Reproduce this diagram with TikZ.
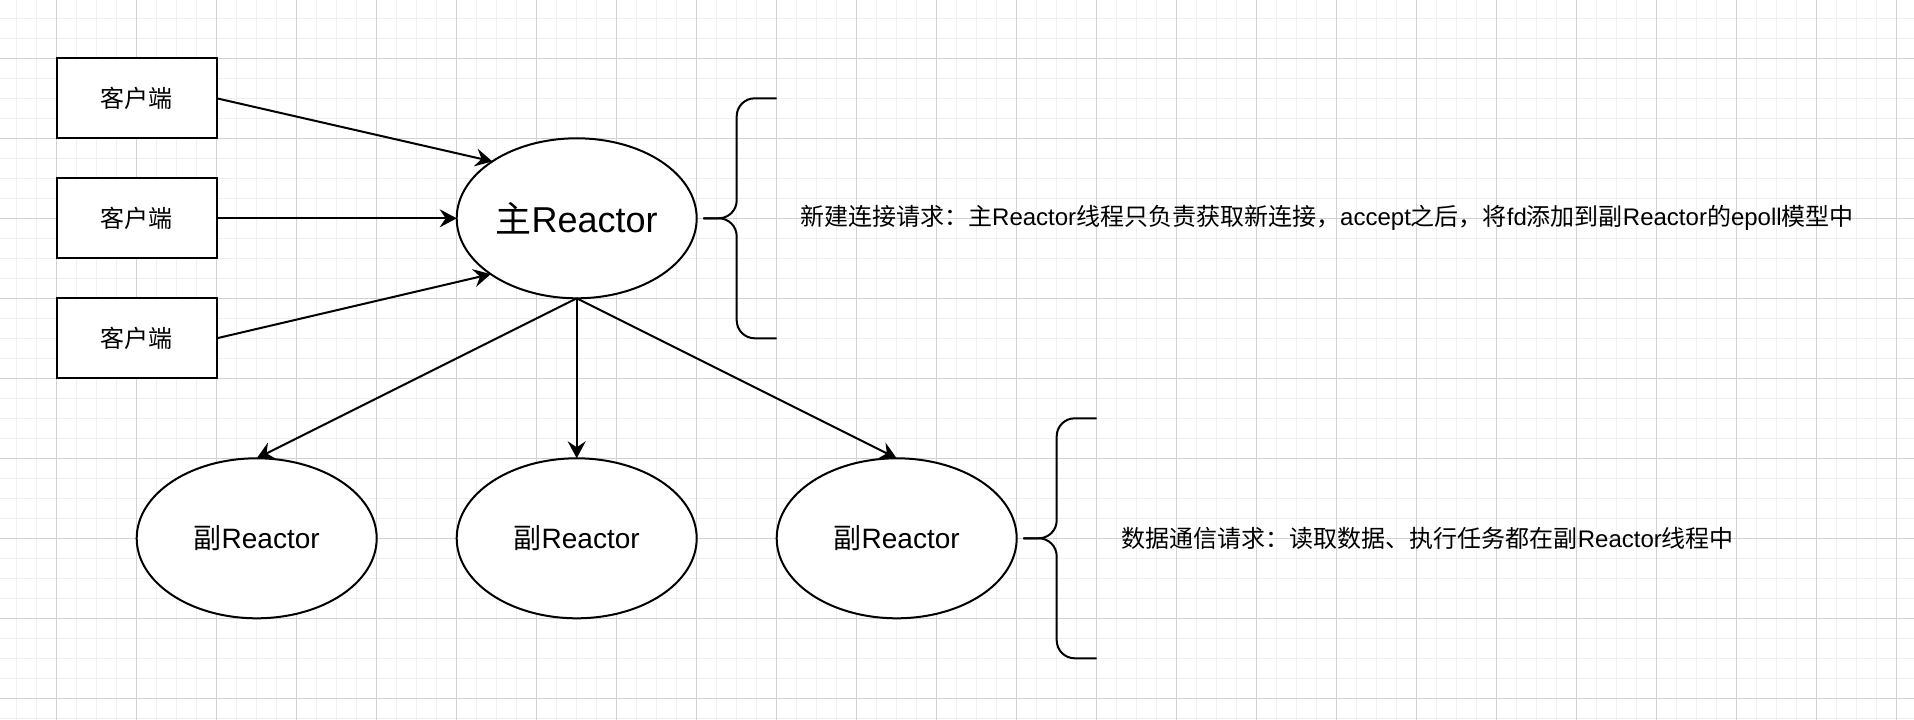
\documentclass[tikz,border=0pt]{standalone}
\usepackage{fontspec}
\setmainfont{Liberation Sans}
\newfontfamily\cjk{Noto Sans CJK SC}
\usetikzlibrary{shapes.geometric,arrows.meta}
\definecolor{gridminor}{HTML}{F0F0F0}
\definecolor{gridmajor}{HTML}{D2D2D2}
\tikzset{
  client/.style={draw, line width=2pt, fill=white, minimum width=160pt, minimum height=80pt, inner sep=0pt, outer sep=0pt, font=\fontsize{24}{28}\selectfont\cjk},
  reactor/.style={draw, ellipse, line width=2pt, fill=white, minimum width=240pt, minimum height=160pt, inner sep=0pt, outer sep=0pt},
  conn/.style={line width=2pt, -{Stealth[length=17pt,width=18pt,inset=6pt]}},
  bracestyle/.style={line width=2pt, rounded corners=18pt},
  note/.style={anchor=west, inner sep=0pt, font=\fontsize{24}{28}\selectfont},
  minorline/.style={draw=gridminor, line width=1.5pt},
  majorline/.style={draw=gridmajor, line width=1pt},
}
\begin{document}
\begin{tikzpicture}[x=1pt, y=-1pt]
\useasboundingbox (0,0) rectangle (1914,720);
\fill[white] (0,0) rectangle (1914,720);
% grid
\foreach \x in {16.7,36.7,...,1914} \draw[minorline] (\x,0) -- (\x,720);
\foreach \y in {18.3,38.3,...,720} \draw[minorline] (0,\y) -- (1914,\y);
\foreach \x in {56.7,136.7,...,1914} \draw[majorline] (\x,0) -- (\x,720);
\foreach \y in {58.3,138.3,...,720} \draw[majorline] (0,\y) -- (1914,\y);

% clients
\node[client] (c1) at (136.7,98.3) {客户端};
\node[client] (c2) at (136.7,218.3) {客户端};
\node[client] (c3) at (136.7,338.3) {客户端};

% reactors
\node[reactor, font=\fontsize{36}{40}\selectfont] (main) at (576.7,218.3) {{\cjk 主}Reactor};
\node[reactor, font=\fontsize{28}{32}\selectfont] (s1) at (256.7,538.3) {{\cjk 副}Reactor};
\node[reactor, font=\fontsize{28}{32}\selectfont] (s2) at (576.7,538.3) {{\cjk 副}Reactor};
\node[reactor, font=\fontsize{28}{32}\selectfont] (s3) at (896.7,538.3) {{\cjk 副}Reactor};

% connectors
\draw[conn] (c1.east) -- (main.146.3);
\draw[conn] (c2.east) -- (main.west);
\draw[conn] (c3.east) -- (main.213.7);
\draw[conn] (main.south) -- (s1.north);
\draw[conn] (main.south) -- (s2.north);
\draw[conn] (main.south) -- (s3.north);

% braces
\draw[bracestyle] (776.7,98.3) -| (736.7,218.3) -- (703.3,218.3);
\draw[bracestyle] (776.7,338.3) -| (736.7,218.3) -- (703.3,218.3);
\draw[bracestyle] (1096.7,418.3) -| (1056.7,538.3) -- (1023.3,538.3);
\draw[bracestyle] (1096.7,658.3) -| (1056.7,538.3) -- (1023.3,538.3);

% notes
\node[note] (n1) at (800,218.3) {{\cjk 新建连接请求：主}Reactor{\cjk 线程只负责获取新连接，}accept{\cjk 之后，将}fd{\cjk 添加到副}Reactor{\cjk 的}epoll{\cjk 模型中}};
\node[note] (n2) at (1121.7,538.3) {{\cjk 数据通信请求：读取数据、执行任务都在副}Reactor{\cjk 线程中}};
\end{tikzpicture}
\end{document}
